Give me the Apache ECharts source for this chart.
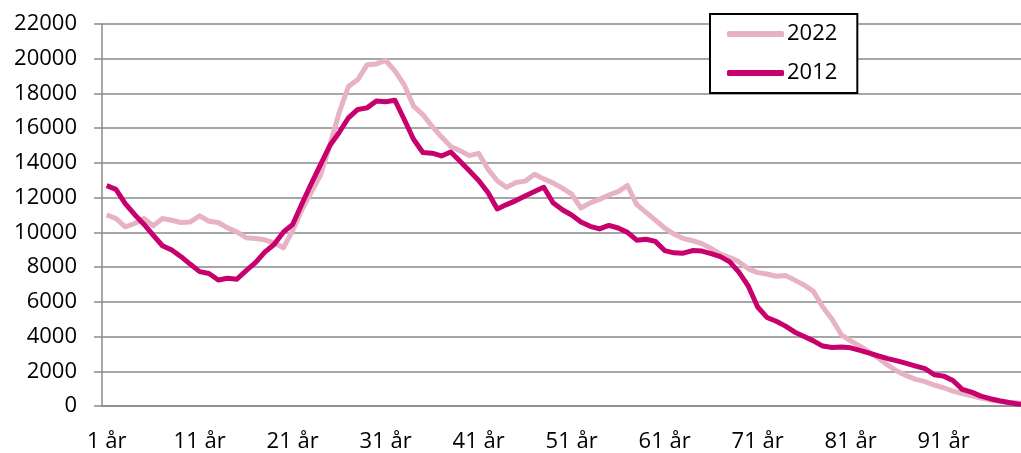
<!DOCTYPE html>
<html>
<head>
<meta charset="utf-8">
<script src="https://cdn.jsdelivr.net/npm/echarts@6/dist/echarts.min.js"></script>
<style>
  html, body { margin: 0; padding: 0; background: #fff; overflow: hidden; }
  /* plot runs past the right edge of the picture (cut off in the original) */
  #chart { width: 1032px; height: 453px; }
</style>
</head>
<body>
<div id="chart"></div>
<script>
// ages 1..100
var ages = []
for (var a = 1; a <= 100; a++) ages.push(a + ' år')

var serie2022 = [
  11010, 10800, 10320, 10510, 10800, 10380, 10800, 10700, 10570, 10600,
  10950, 10640, 10570, 10260, 10030, 9690, 9650, 9570, 9400, 9110,
  10100, 11300, 12300, 13300, 15000, 16900, 18400, 18800, 19650, 19700,
  19900, 19300, 18500, 17270, 16780, 16100, 15500, 14950, 14700, 14420,
  14550, 13640, 12970, 12590, 12870, 12950, 13350, 13080, 12850, 12550,
  12200, 11400, 11700, 11900, 12150, 12350, 12700, 11600, 11150, 10700,
  10250, 9900, 9650, 9520, 9350, 9070, 8750, 8550, 8300, 7900,
  7680, 7600, 7470, 7520, 7250, 6960, 6600, 5700, 5000, 4100,
  3750, 3450, 3100, 2750, 2350, 2000, 1750, 1530, 1400, 1200,
  1050, 860, 720, 580, 460, 360, 270, 200, 180, 150
]

var serie2012 = [
  12690, 12480, 11660, 11030, 10470, 9840, 9230, 8980, 8600, 8160,
  7740, 7630, 7260, 7360, 7300, 7800, 8260, 8860, 9300, 10010,
  10450, 11650, 12800, 13900, 15000, 15750, 16600, 17080, 17170, 17560,
  17520, 17610, 16500, 15360, 14600, 14560, 14400, 14630, 14100, 13550,
  12990, 12300, 11350, 11600, 11830, 12100, 12350, 12600, 11700, 11300,
  11000, 10600, 10350, 10200, 10400, 10250, 10000, 9550, 9600, 9480,
  8950, 8820, 8800, 8950, 8920, 8780, 8600, 8300, 7700, 6900,
  5700, 5100, 4880, 4600, 4250, 4000, 3750, 3450, 3370, 3400,
  3350, 3200, 3050, 2880, 2730, 2600, 2450, 2300, 2150, 1800,
  1720, 1470, 960, 800, 570, 420, 300, 200, 120, 80
]

var font = 'Open Sans'
var gridColor = '#8a8a8a'

var chart = echarts.init(document.getElementById('chart'))
chart.setOption({
  animation: false,
  backgroundColor: '#fff',
  textStyle: { fontFamily: font },
  grid: { left: 102, top: 24, width: 930, height: 384 },
  legend: {
    left: 710,
    top: 14,
    orient: 'vertical',
    padding: [9, 20, 9, 17],
    itemGap: 17,
    itemWidth: 57,
    itemHeight: 6,
    icon: 'roundRect',
    borderColor: '#000',
    borderWidth: 2,
    backgroundColor: '#fff',
    textStyle: { fontSize: 22, color: '#000', fontFamily: font, padding: [0, 0, 0, -2] },
    data: ['2022', '2012']
  },
  xAxis: {
    type: 'category',
    data: ages,
    boundaryGap: true,
    axisLine: { lineStyle: { color: gridColor, width: 1.5 } },
    axisTick: { interval: 9, length: 8, lineStyle: { color: gridColor, width: 1.5 } },
    axisLabel: { interval: 9, margin: 25, fontSize: 22, color: '#000', fontFamily: font },
    splitLine: { show: false }
  },
  yAxis: {
    type: 'value',
    min: 0,
    max: 22000,
    interval: 2000,
    axisLine: { show: true, lineStyle: { color: gridColor, width: 1.5 } },
    axisTick: { show: true, length: 8, lineStyle: { color: gridColor, width: 1.5 } },
    axisLabel: {
      margin: 25, fontSize: 22, color: '#000', fontFamily: font,
      formatter: function (v) { return String(v) }
    },
    splitLine: { lineStyle: { color: gridColor, width: 1.5 } }
  },
  series: [
    {
      name: '2022',
      type: 'line',
      data: serie2022,
      symbol: 'none',
      lineStyle: { color: '#E7B2C4', width: 5, join: 'round' },
      itemStyle: { color: '#E7B2C4' }
    },
    {
      name: '2012',
      type: 'line',
      data: serie2012,
      symbol: 'none',
      lineStyle: { color: '#C7006E', width: 5, join: 'round' },
      itemStyle: { color: '#C7006E' }
    }
  ]
})
</script>
</body>
</html>
